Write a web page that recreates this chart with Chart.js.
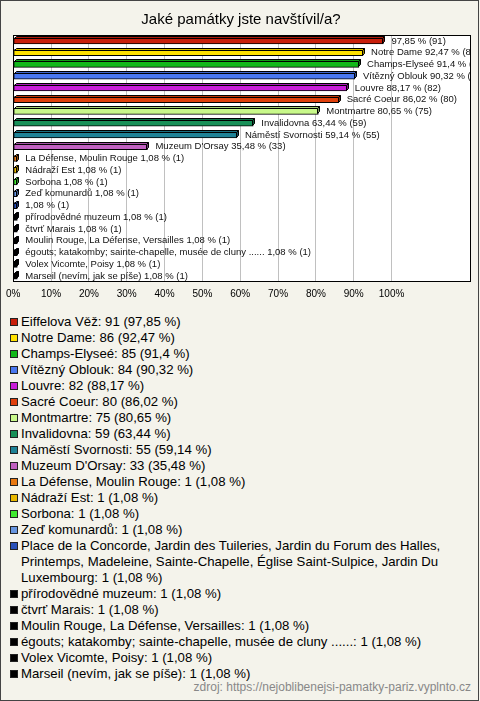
<!DOCTYPE html>
<html>
<head>
<meta charset="utf-8">
<script src="https://cdn.jsdelivr.net/npm/chart.js@4"></script>
<style>
  body { margin: 0; font-family: "Liberation Sans", Arial, sans-serif; }
  #page { position: relative; width: 480px; height: 701px; background: #f4f3eb; overflow: hidden; }
  #frame { position: absolute; left: 0; top: 0; width: 479px; height: 701px; box-sizing: border-box; border: 1px solid #444; pointer-events: none; }
  #chartBox { position: absolute; left: 0; top: 0; width: 480px; height: 310px; }
  #legend { position: absolute; left: 10px; top: 314px; width: 455px; font-size: 13.2px; line-height: 16px; color: #000; }
  .item { display: flex; align-items: flex-start; }
  .mark { flex: none; width: 6px; height: 6px; border: 1px solid #222; margin: 4px 3px 0 0; }
  #source { position: absolute; right: 9px; top: 680px; font-size: 12px; color: #888; }
</style>
</head>
<body>
<div id="page">
  <div id="chartBox"><canvas id="surveyChart"></canvas></div>
  <div id="legend"></div>
  <div id="source">zdroj: https://nejoblibenejsi-pamatky-pariz.vyplnto.cz</div>
  <div id="frame"></div>
</div>
<script>
const categories = [
  "Eiffelova Věž",
  "Notre Dame",
  "Champs-Elyseé",
  "Vítězný Oblouk",
  "Louvre",
  "Sacré Coeur",
  "Montmartre",
  "Invalidovna",
  "Náměstí Svornosti",
  "Muzeum D'Orsay",
  "La Défense, Moulin Rouge",
  "Nádraží Est",
  "Sorbona",
  "Zeď komunardů",
  "Place de la Concorde, Jardin des Tuileries, Jardin du Forum des Halles, Printemps, Madeleine, Sainte-Chapelle, Église Saint-Sulpice, Jardin Du Luxembourg",
  "přírodovědné muzeum",
  "čtvrť Marais",
  "Moulin Rouge, La Défense, Versailles",
  "égouts; katakomby; sainte-chapelle, musée de cluny ......",
  "Volex Vicomte, Poisy",
  "Marseil (nevím, jak se píše)",
];
const counts = [91, 86, 85, 84, 82, 80, 75, 59, 55, 33, 1, 1, 1, 1, 1, 1, 1, 1, 1, 1, 1];
const percents = [97.85, 92.47, 91.4, 90.32, 88.17, 86.02, 80.65, 63.44, 59.14, 35.48,
  1.08, 1.08, 1.08, 1.08, 1.08, 1.08, 1.08, 1.08, 1.08, 1.08, 1.08];
const colors = [
  "#c81e0a", "#ffe100", "#12b81a", "#4a78f0", "#c81ed8", "#e0400c", "#c8f88a",
  "#189058", "#1e8296", "#c060c0", "#e87810", "#e8b800", "#40e830", "#6896e0",
  "#2850b8", "#000000", "#000000", "#000000", "#000000", "#000000", "#000000",
];
// bars whose value label shows no name
const barLabelNoName = [0, 14];
const tickValues = [0, 10, 20, 30, 40, 50, 60, 70, 80, 90, 100];

const fmt = (v) => String(v).replace(".", ",");

function shade(hex, f) {
  const n = parseInt(hex.slice(1), 16);
  const r = Math.round(((n >> 16) & 255) * f);
  const g = Math.round(((n >> 8) & 255) * f);
  const b = Math.round((n & 255) * f);
  return "rgb(" + r + "," + g + "," + b + ")";
}

const plotBackground = {
  id: "plotBackground",
  beforeDraw(chart) {
    const { ctx, chartArea: a } = chart;
    ctx.save();
    ctx.fillStyle = "#ffffff";
    ctx.fillRect(a.left, a.top, a.right - a.left, a.bottom - a.top);
    ctx.restore();
  },
  afterDraw(chart) {
    const { ctx, chartArea: a } = chart;
    ctx.save();
    ctx.strokeStyle = "#000";
    ctx.lineWidth = 1;
    ctx.strokeRect(Math.round(a.left) + 0.5, Math.round(a.top) + 0.5,
      Math.round(a.right - a.left) - 1, Math.round(a.bottom - a.top) - 1);
    ctx.restore();
  },
};

// top and side faces for the 3d look, then the value labels
const bar3d = {
  id: "bar3d",
  afterDatasetsDraw(chart) {
    const { ctx, chartArea: a } = chart;
    const meta = chart.getDatasetMeta(0);
    const d = 2;
    ctx.save();
    ctx.lineWidth = 1;
    ctx.strokeStyle = "#000";
    meta.data.forEach((bar, i) => {
      const p = bar.getProps(["x", "y", "base", "height"], true);
      const top = Math.round(p.y - p.height / 2) + 0.5;
      const bottom = Math.round(p.y + p.height / 2) - 0.5;
      const x0 = Math.round(p.base) + 0.5;
      const x1 = Math.round(p.x) - 0.5;
      ctx.beginPath();
      ctx.moveTo(x0, top);
      ctx.lineTo(x0 + d, top - d);
      ctx.lineTo(x1 + d, top - d);
      ctx.lineTo(x1, top);
      ctx.closePath();
      ctx.fillStyle = shade(colors[i], 0.85);
      ctx.fill();
      ctx.stroke();
      ctx.beginPath();
      ctx.moveTo(x1, top);
      ctx.lineTo(x1 + d, top - d);
      ctx.lineTo(x1 + d, bottom - d);
      ctx.lineTo(x1, bottom);
      ctx.closePath();
      ctx.fillStyle = shade(colors[i], 0.6);
      ctx.fill();
      ctx.stroke();
    });

    ctx.beginPath();
    ctx.rect(a.left, a.top, a.right - a.left - 1, a.bottom - a.top);
    ctx.clip();
    ctx.font = '9.5px "Liberation Sans", Arial, sans-serif';
    ctx.fillStyle = "#111";
    ctx.textBaseline = "middle";
    meta.data.forEach((bar, i) => {
      const p = bar.getProps(["x", "y"], true);
      const name = barLabelNoName.includes(i) ? "" : categories[i] + " ";
      const txt = name + fmt(percents[i]) + " % (" + counts[i] + ")";
      ctx.fillText(txt, p.x + 8, p.y);
    });
    ctx.restore();
  },
};

new Chart(document.getElementById("surveyChart").getContext("2d"), {
  type: "bar",
  data: {
    labels: categories,
    datasets: [
      {
        data: percents,
        backgroundColor: colors,
        borderColor: "#000",
        borderWidth: 1,
        borderSkipped: false,
        barThickness: 6,
      },
    ],
  },
  options: {
    indexAxis: "y",
    responsive: true,
    maintainAspectRatio: false,
    animation: false,
    layout: { padding: { left: 11, right: 9, top: 0, bottom: 4 } },
    plugins: {
      legend: { display: false },
      tooltip: { enabled: false },
      title: {
        display: true,
        text: "Jaké památky jste navštívil/a?",
        color: "#000",
        font: { family: '"Liberation Sans", Arial, sans-serif', size: 15, weight: "normal" },
        padding: { top: 11, bottom: 6 },
      },
    },
    scales: {
      x: {
        min: 0,
        max: 121,
        afterBuildTicks: (axis) => {
          axis.ticks = tickValues.map((v) => ({ value: v }));
        },
        border: { display: false },
        grid: {
          drawTicks: false,
          color: (c) => (c.tick && c.tick.value > 0 ? "#c0c0c0" : "rgba(0,0,0,0)"),
        },
        ticks: {
          padding: 6,
          color: "#000",
          maxRotation: 0,
          autoSkip: false,
          font: { family: '"Liberation Sans", Arial, sans-serif', size: 10 },
          callback: (v) => v + "%",
        },
      },
      y: {
        display: false,
        grid: { display: false },
      },
    },
  },
  plugins: [plotBackground, bar3d],
});

const legend = document.getElementById("legend");
categories.forEach((name, i) => {
  const row = document.createElement("div");
  row.className = "item";
  const mark = document.createElement("span");
  mark.className = "mark";
  mark.style.background = colors[i];
  const text = document.createElement("span");
  text.textContent = name + ": " + counts[i] + " (" + fmt(percents[i]) + " %)";
  row.appendChild(mark);
  row.appendChild(text);
  legend.appendChild(row);
});
</script>
</body>
</html>
